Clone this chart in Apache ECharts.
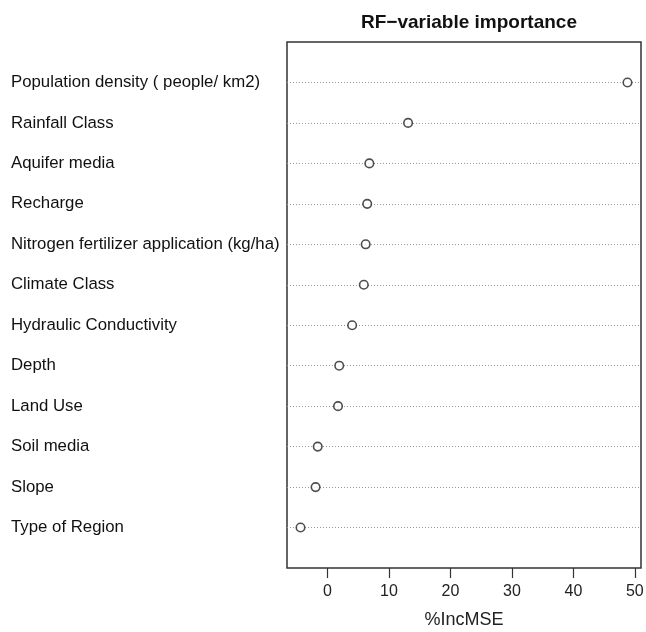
<!DOCTYPE html>
<html lang="en">
<head>
    <meta charset="UTF-8">
    <title>RF-variable importance</title>
    <script type="text/javascript" src="https://cdn.jsdelivr.net/npm/echarts@6/dist/echarts.min.js"></script>
</head>
<body style="margin:0;background:#fff;">
<div id="main" style="width: 646px; height: 632px;"></div>
<script type="text/javascript">
    // variables, top to bottom
    var variables = [
        'Population density ( people/ km2)',
        'Rainfall Class',
        'Aquifer media',
        'Recharge',
        'Nitrogen fertilizer application (kg/ha)',
        'Climate Class',
        'Hydraulic Conductivity',
        'Depth',
        'Land Use',
        'Soil media',
        'Slope',
        'Type of Region'
    ];
    // %IncMSE
    var incMSE = [48.8, 13.1, 6.8, 6.45, 6.2, 5.9, 4.0, 1.9, 1.7, -1.6, -1.95, -4.4];
    var xTicks = [0, 10, 20, 30, 40, 50];

    var n = variables.length;
    var points = [];
    for (var i = 0; i < n; i++) {
        points.push([incMSE[i], n - i]);
    }

    var font = '"Liberation Sans", Arial, sans-serif';

    var option = {
        backgroundColor: '#fff',
        title: {
            text: 'RF\u2212variable importance',
            left: 464,
            top: 8,
            textAlign: 'center',
            textStyle: {
                fontFamily: font,
                fontSize: 19,
                fontWeight: 'bold',
                color: '#111'
            }
        },
        grid: {
            left: 287,
            right: 5,
            top: 42,
            bottom: 64,
            outerBoundsMode: 'none',
            show: true,
            borderColor: '#333',
            borderWidth: 1.5
        },
        xAxis: {
            type: 'value',
            min: -6.6,
            max: 51,
            name: '%IncMSE',
            nameLocation: 'middle',
            nameGap: 43,
            nameTextStyle: {fontFamily: font, fontSize: 18, color: '#222'},
            axisLine: {show: false},
            axisTick: {
                show: true,
                length: 10,
                customValues: xTicks,
                lineStyle: {color: '#333', width: 1.2}
            },
            axisLabel: {
                customValues: xTicks,
                margin: 16,
                fontFamily: font,
                fontSize: 16,
                color: '#222'
            },
            splitLine: {show: false}
        },
        yAxis: {
            type: 'value',
            min: 0,
            max: n + 1,
            interval: 1,
            axisLine: {show: false},
            axisTick: {show: false},
            axisLabel: {
                align: 'left',
                margin: 276,
                fontFamily: font,
                fontSize: 16.8,
                color: '#111',
                formatter: function (v) {
                    if (v >= 1 && v <= n) return variables[n - v];
                    return '';
                }
            },
            splitLine: {
                show: true,
                showMinLine: false,
                showMaxLine: false,
                lineStyle: {color: '#999', type: [1, 2], width: 1}
            }
        },
        series: [
            {
                type: 'scatter',
                data: points,
                symbol: 'circle',
                symbolSize: 8.5,
                itemStyle: {
                    color: '#fff',
                    borderColor: '#222',
                    borderWidth: 1.6
                },
                z: 5
            }
        ]
    };

    var myChart = echarts.init(document.getElementById('main'));
    myChart.setOption(option);
</script>
</body>
</html>
